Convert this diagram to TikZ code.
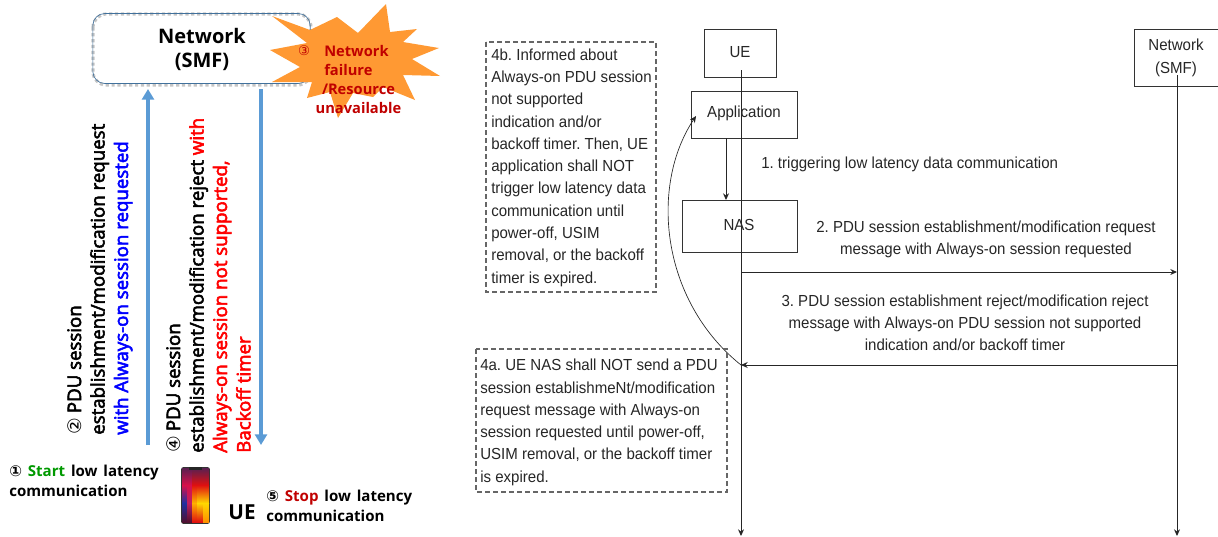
\documentclass[tikz,border=0pt]{standalone}
\usepackage{fontspec}
\setmainfont{Liberation Sans}
\newfontfamily\leftfont{Open Sans}[FakeBold=3]
\newfontfamily\leftheavy{Open Sans}[BoldFont={Open Sans Bold},WordSpace=1.5]
\newcommand{\lbf}{\leftheavy\bfseries}
\newfontfamily\circfont{DejaVu Sans}
\newfontfamily\rightfont{Liberation Sans}[FakeStretch=0.94]
\usetikzlibrary{arrows.meta,shapes.geometric}
\definecolor{arrowblue}{HTML}{5B9BD5}
\definecolor{burst}{HTML}{FF9933}
\definecolor{darkred}{HTML}{C00000}
\definecolor{boxedge}{HTML}{41719C}
\definecolor{pdark}{HTML}{5A2050}
\definecolor{pmag}{HTML}{D8104A}
\definecolor{pblue}{HTML}{2030A0}
\definecolor{pwine}{HTML}{501030}
\definecolor{pred}{HTML}{E01010}
\definecolor{pyel}{HTML}{FFD800}
\definecolor{pamb}{HTML}{FFB000}
\definecolor{porg}{HTML}{FF9000}
\definecolor{pros}{HTML}{C02060}
\newcommand{\phonestrip}[6]{%
 \shade[top color=#3,bottom color=#4] (#1,468) rectangle (#2,485.2);
 \shade[top color=#4,bottom color=#5] (#1,485) rectangle (#2,503.2);
 \shade[top color=#5,bottom color=#6] (#1,503) rectangle (#2,522);
}
\tikzset{
 plainbox/.style={draw=black!80,line width=.7pt,inner sep=0pt},
 seqlabel/.style={font=\rightfont\fontsize{12}{12}\selectfont,inner sep=0pt,text=black!85},
 seqtext/.style={font=\rightfont\fontsize{12}{16.7}\selectfont,text=black!85,inner sep=0pt,align=center},
 notetext/.style={font=\rightfont\fontsize{12}{16.7}\selectfont,text=black!85,inner sep=0pt,align=left,anchor=north west},
 notebox/.style={draw=black!60,dash pattern=on 4pt off 2pt,line width=.8pt},
 seqarrow/.style={draw=black!85,line width=.7pt,-{Stealth[length=5pt,width=4.5pt]}},
 bigarrow/.style={draw=arrowblue,line width=2.6pt,-{Triangle[length=8pt,width=9pt]}},
 vtext/.style={font=\leftfont\fontsize{14}{17.6}\selectfont,inner sep=0pt,rotate=90,align=left,anchor=north west},
 lefttext/.style={font=\lbf\fontsize{11.3}{15}\selectfont,inner sep=0pt,align=left,anchor=north west},
 bursttext/.style={font=\lbf\fontsize{11}{14}\selectfont,text=darkred,inner sep=0pt},
}
\frenchspacing
\begin{document}
\begin{tikzpicture}[x=.75pt,y=-.75pt]
\useasboundingbox (0,0) rectangle (1218,536);
% left: network
\draw[gray!45,line width=2.4pt,dotted,rounded corners=10pt] (93,14) rectangle (311,85);
\node[draw=boxedge,line width=.5pt,rounded corners=9pt,minimum width=163pt,minimum height=52.5pt,inner sep=0pt] (netbox) at (201.5,48.5) {};
\node[font=\lbf\fontsize{15}{18.5}\selectfont,align=center,inner sep=0pt] (netlabel) at (202,49.5) {Network\\(SMF)};
% burst
\fill[burst] (272,16)--(310,30)--(337,17)--(358,33)--(386,4)--(390,32)--(417,29)--(403,42)--(439,48)--(412,59)--(440,76)--(403,75)--(415,100)--(383,87)--(373,97)--(353,93)--(338,118)--(330,92)--(307,98)--(312,82)--(272,82)--(300,67)--(270,50)--(307,43)--cycle;
\node[font=\circfont\fontsize{10}{10}\selectfont,text=darkred,inner sep=0pt] (burstnum) at (304,51) {③};
\node[bursttext,anchor=west] (burst1) at (324,51) {Network};
\node[bursttext,anchor=west] (burst2) at (324,70) {failure};
\node[bursttext] (burst3) at (358.5,89) {/Resource};
\node[bursttext] (burst4) at (358.5,108) {unavailable};
% big arrows
\coordinate (upfrom) at (148,445);
\coordinate (upto) at (148,89);
\coordinate (downfrom) at (261,89);
\coordinate (downto) at (261,445);
\draw[bigarrow] (upfrom) -- (upto);
\draw[bigarrow] (downfrom) -- (downto);
% rotated labels
\node[vtext] (lab2) at (67,435) {{\circfont ②} PDU session\\establishment/modification request\\\textcolor{blue}{with Always-on session requested}};
\node[vtext] (lab4) at (166,453) {{\circfont ④} PDU session\\establishment/modification reject \textcolor{red}{with}\\\textcolor{red}{Always-on session not supported,}\\\textcolor{red}{Backoff timer}};
% bottom labels
\node[lefttext] (lab1) at (9,465) {{\circfont ①} \textcolor{green!60!black}{Start} low latency\\communication};
\node[lefttext] (lab5) at (266,490) {{\circfont ⑤} \textcolor{darkred}{Stop} low latency\\communication};
\node[font=\lbf\fontsize{15.5}{15.5}\selectfont,inner sep=0pt] (uelabel) at (242,512) {UE};
% phone
\begin{scope}
\clip[rounded corners=2pt] (181,467) rectangle (210,524);
\fill[black!80] (181,467) rectangle (210,524);
\phonestrip{182}{187.2}{pdark}{pmag}{pblue}{pwine}
\phonestrip{187}{192.2}{pdark}{pmag}{pros}{pwine}
\phonestrip{192}{197.2}{pdark}{pred}{pamb}{pred}
\phonestrip{197}{203.2}{pdark}{pred}{pyel}{pred}
\phonestrip{203}{209}{pdark}{pred}{pyel}{porg}
\fill[black!85] (189,467) rectangle (202,470);
\end{scope}
% right: sequence
\node[plainbox,minimum width=54pt,minimum height=36pt] (ue) at (740,53) {};
\node[seqlabel] (uetext) at (740,52) {UE};
\node[plainbox,minimum width=79.5pt,minimum height=35.25pt] (app) at (744,114.5) {};
\node[plainbox,minimum width=86.25pt,minimum height=39pt] (nas) at (739.5,226) {};
\node[plainbox,minimum width=63pt,minimum height=42.75pt] (net) at (1176,57.5) {};
\coordinate (uetop) at (741,70);
\coordinate (uebot) at (741,536);
\coordinate (nettop) at (1177,75);
\coordinate (netbot) at (1177,536);
\coordinate (m2a) at (741,272);
\coordinate (m2b) at (1177,272);
\coordinate (m3a) at (1177,365);
\coordinate (m3b) at (741,365);
\coordinate (appin) at (696,116);
\coordinate (nasin) at (726,200);
\coordinate (appout) at (726,138);
\draw[seqarrow] (uetop) -- (uebot);
\draw[seqarrow] (nettop) -- (netbot);
\node[seqlabel] (apptext) at (744,113) {Application};
\node[seqlabel] (nastext) at (739,225) {NAS};
\node[font=\rightfont\fontsize{12}{17}\selectfont,inner sep=0pt,align=center,text=black!85] (nettext) at (1176,58) {Network\\(SMF)};
\draw[seqarrow] (appout) -- (nasin);
\draw[seqarrow] (m2a) -- (m2b);
\draw[seqarrow] (m3a) -- (m3b);
\draw[seqarrow,line width=.5pt] (m3b) .. controls (660,300) and (650,185) .. (appin);
\node[seqtext,anchor=west] (t1) at (761,164) {1. triggering low latency data communication};
\node[seqtext] (t2) at (986,239) {2. PDU session establishment/modification request\\message with Always-on session requested};
\node[seqtext] (t3) at (965,323) {3. PDU session establishment reject/modification reject\\message with Always-on PDU session not supported\\indication and/or backoff timer};
\draw[notebox] (486,42) rectangle (656,292);
\node[notetext] (n4b) at (491,48.5) {4b. Informed about\\Always-on PDU session\\not supported\\indication and/or\\backoff timer. Then, UE\\application shall NOT\\trigger low latency data\\communication until\\power-off, USIM\\removal, or the backoff\\timer is expired.};
\draw[notebox] (476,349) rectangle (727,492);
\node[notetext] (n4a) at (480,359) {4a. UE NAS shall NOT send a PDU\\session establishmeNt/modification\\request message with Always-on\\session requested until power-off,\\USIM removal, or the backoff timer\\is expired.};
\end{tikzpicture}
\end{document}
